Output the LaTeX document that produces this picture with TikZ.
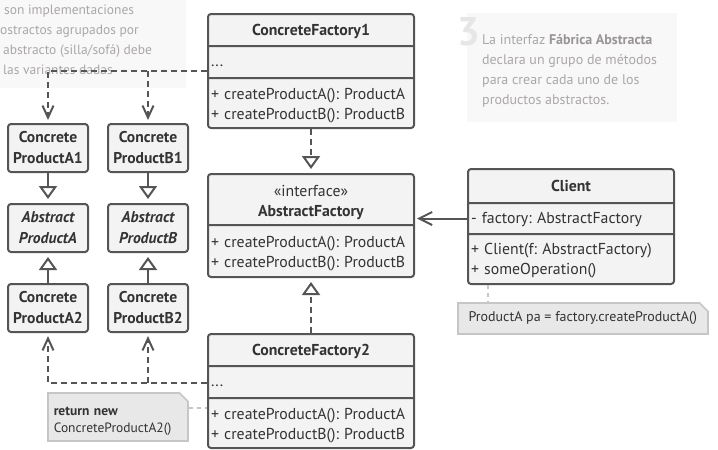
\documentclass[tikz,border=0pt]{standalone}
\usepackage{fontspec}
\setmainfont{PT Sans}
\usetikzlibrary{positioning,calc,arrows.meta,shapes.multipart}
\definecolor{boxfill}{HTML}{F3F3F3}
\definecolor{boxline}{HTML}{555555}
\definecolor{txt}{HTML}{333333}
\definecolor{notefill}{HTML}{E8E8E8}
\definecolor{noteline}{HTML}{C6C6C6}
\definecolor{bgfill}{HTML}{F8F8F8}
\definecolor{hinttext}{HTML}{ABA7A7}
\definecolor{hintbold}{HTML}{9A9595}
\definecolor{numgray}{HTML}{E6E6E6}
\frenchspacing

\begin{document}
\begin{tikzpicture}
   [x=1pt,y=-1pt,
    every node/.style={text=txt},
    cls/.style={rectangle split, rectangle split parts=3, draw=boxline,
      fill=boxfill, line width=2pt, rounded corners=3pt, text width=200pt,
      inner xsep=3pt, inner ysep=0pt, anchor=north west,
      font=\fontsize{15.8}{20}\selectfont},
    prod/.style={draw=boxline, fill=boxfill, line width=2pt, rounded corners=3pt,
      minimum width=80pt, minimum height=48pt, text width=78pt, align=center,
      inner sep=1pt, font=\fontsize{15.6}{21}\selectfont\bfseries},
    note/.style={draw=noteline, fill=notefill, line width=1.5pt, anchor=north west},
    hint/.style={align=left, anchor=north west, inner sep=0pt, text=hinttext,
      font=\fontsize{14}{20}\selectfont},
    dep/.style={boxline, line width=2pt, dash pattern=on 6pt off 4pt,
      -{Straight Barb[length=12pt,width=11pt]}, shorten >=3pt},
    real/.style={boxline, line width=2pt, dash pattern=on 6pt off 4pt,
      -{Triangle[fill=white,length=13pt,width=18pt]}, shorten >=4pt},
    inh/.style={boxline, line width=2pt,
      -{Triangle[fill=white,length=13pt,width=18pt]}, shorten >=4pt},
    assoc/.style={boxline, line width=2pt,
      -{Straight Barb[length=13pt,width=13pt]}, shorten >=2pt},
    link/.style={noteline, line width=1.5pt, dash pattern=on 4pt off 4pt}]
\useasboundingbox (0,0) rectangle (718,450);

% hints in the background
\fill[bgfill] (0,0) rectangle (186,88);
\fill[bgfill] (467,13) rectangle (677,122);
\node[hint,font=\fontsize{13.5}{20}\selectfont] (hintl) at (0,0)
  {\rule{0pt}{14pt}\hspace*{4pt}son implementaciones\\
  ostractos agrupados por\\
  \hspace*{3pt}abstracto (silla/sofá) debe\\
  \hspace*{3pt}las variantes dadas};
\node[anchor=base west, inner sep=0pt, text=numgray,
  font=\fontsize{40}{40}\selectfont\bfseries] (num) at (457,45) {3};
\node[hint] (hintr) at (482,29) {\rule{0pt}{15pt}La interfaz \textbf{\color{hintbold}Fábrica Abstracta}\\
  declara un grupo de métodos\\
  para crear cada uno de los\\
  productos abstractos.};

% factories
\node[cls] (cf1) at (207,13) {
\nodepart{one} \centering\rule[-10pt]{0pt}{30pt}\textbf{ConcreteFactory1}\par
\nodepart{two} \rule[-11pt]{0pt}{30pt}...
\nodepart{three} \rule{0pt}{20pt}+ createProductA(): ProductA\\
  + createProductB(): ProductB\rule[-8pt]{0pt}{8pt}
};
\node[cls,rectangle split parts=2] (af) at (207,173) {
\nodepart{one} \centering\rule{0pt}{21pt}«interface»\\
  \rule[-8pt]{0pt}{8pt}\textbf{AbstractFactory}\par
\nodepart{two} \rule{0pt}{21pt}+ createProductA(): ProductA\\
  + createProductB(): ProductB\rule[-9pt]{0pt}{9pt}
};
\node[cls] (cf2) at (207,333) {
\nodepart{one} \centering\rule[-10pt]{0pt}{30pt}\textbf{ConcreteFactory2}\par
\nodepart{two} \rule[-11pt]{0pt}{30pt}...
\nodepart{three} \rule{0pt}{20pt}+ createProductA(): ProductA\\
  + createProductB(): ProductB\rule[-8pt]{0pt}{8pt}
};
\node[cls] (cl) at (467,168) {
\nodepart{one} \centering\rule[-11pt]{0pt}{32pt}\textbf{Client}\par
\nodepart{two} \rule[-10pt]{0pt}{29pt}- factory: AbstractFactory
\nodepart{three} \rule{0pt}{19pt}+ Client(f: AbstractFactory)\\
  + someOperation()\rule[-9pt]{0pt}{9pt}
};

% products
\node[prod,anchor=north west] (cpa1) at (7,123) {Concrete\\ProductA1};
\node[prod,right=18pt of cpa1] (cpb1) {Concrete\\ProductB1};
\node[prod,below=30pt of cpa1] (apa) {\itshape Abstract\\ProductA};
\node[prod,right=18pt of apa] (apb) {\itshape Abstract\\ProductB};
\node[prod,below=30pt of apa] (cpa2) {Concrete\\ProductA2};
\node[prod,right=18pt of cpa2] (cpb2) {Concrete\\ProductB2};

% notes
\node[note,minimum width=140pt,minimum height=48pt,text width=128pt,align=left,
  inner xsep=6pt,font=\fontsize{13.5}{17}\selectfont] (rnote) at (47,392)
  {\rule{0pt}{17pt}\textbf{return new}\\ConcreteProductA2()};
\node[note,minimum width=250pt,minimum height=31pt,
  font=\fontsize{14}{17}\selectfont] (pnote) at (457,302)
  {ProductA pa = factory.createProductA()};
\fill[white] ($(rnote.north east)+(-10,-1)$) -- ($(rnote.north east)+(1,-1)$)
  -- ($(rnote.north east)+(1,10)$) -- cycle;
\draw[noteline,line width=1.5pt] ($(rnote.north east)+(-10,0)$) -- ($(rnote.north east)+(0,10)$);
\fill[white] ($(pnote.north east)+(-10,-1)$) -- ($(pnote.north east)+(1,-1)$)
  -- ($(pnote.north east)+(1,10)$) -- cycle;
\draw[noteline,line width=1.5pt] ($(pnote.north east)+(-10,0)$) -- ($(pnote.north east)+(0,10)$);

% connectors
\draw[dep] ($(cf1.two split west)+(0,-7)$) coordinate (j1) -| (cpa1.north);
\draw[dep] (j1 -| cpb1.north) -- (cpb1.north);
\draw[dep] ($(cf2.two split west)+(0,-15)$) coordinate (j2) -| (cpa2.south);
\draw[dep] (j2 -| cpb2.south) -- (cpb2.south);
\draw[real] (cf1) -- (af);
\draw[real] (cf2) -- (af);
\draw[inh] (cpa1) -- (apa);
\draw[inh] (cpb1) -- (apb);
\draw[inh] (cpa2) -- (apa);
\draw[inh] (cpb2) -- (apb);
\coordinate (clf) at ($(cl.text split west)!.5!(cl.two split west)$);
\draw[assoc] (clf) -- (clf -| af.east);
\draw[link] ($(cl.south west)+(21,0)$) coordinate (c2) -- (c2 |- pnote.north);
\draw[link] ($(rnote.north east)+(0,16)$) coordinate (c3) -- (c3 -| cf2.west);
\end{tikzpicture}
\end{document}
